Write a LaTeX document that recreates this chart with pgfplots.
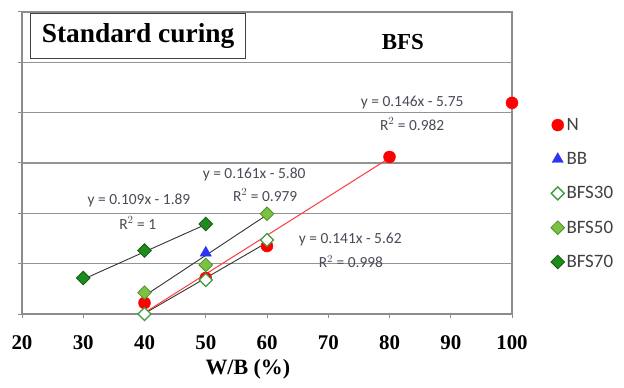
\documentclass[border=0pt]{standalone}
\usepackage{fontspec}
\setmainfont{Liberation Serif}
\newfontfamily\calfont{Carlito}
\usepackage{pgfplots}
\pgfplotsset{compat=1.18}
\definecolor{gridgray}{HTML}{939393}
\definecolor{axgray}{HTML}{8C8C8C}
\definecolor{eqgray}{HTML}{4A4A58}
\definecolor{legtext}{HTML}{404040}
\definecolor{bbblue}{HTML}{2B35F0}
\definecolor{g30}{HTML}{3F9A3F}
\definecolor{g50fill}{HTML}{7CC242}
\definecolor{g50draw}{HTML}{4A8F2A}
\definecolor{g70fill}{HTML}{1F8B1F}
\definecolor{g70draw}{HTML}{0E5E0E}
\definecolor{nred}{HTML}{FF0000}
\definecolor{redline}{HTML}{FF3A3A}
\begin{document}
\begin{tikzpicture}
\begin{axis}[
  name=ax, scale only axis, width=490bp, height=302bp,
  xmin=20, xmax=100, ymin=0, ymax=12,
  xtick={20,30,...,100}, ytick={0,2,...,12}, yticklabels={},
  ymajorgrids, grid style={draw=gridgray, line width=1.3bp},
  axis line style={draw=axgray, line width=1.2bp},
  tick style={draw=axgray, line width=1bp},
  tick align=outside, major tick length=4bp,
  xtick pos=bottom, ytick pos=left,
  /pgf/number format/assume math mode=true,
  xticklabel style={font=\fontsize{21}{21}\selectfont\bfseries, yshift=-14bp},
  xlabel={W/B (\%)},
  xlabel style={font=\fontsize{22}{22}\selectfont\bfseries, at={(axis description cs:0.461,0)}, anchor=center, yshift=-55bp},
  clip=false,
  legend style={draw=none, fill=none, at={(axis description cs:1.073,0.662)}, anchor=north west,
    font=\calfont\fontsize{19}{19}\selectfont, text=legtext, row sep=16.5bp},
  legend cell align=left,
]
% trendlines
\addplot[black!80, line width=0.9bp, forget plot] coordinates {(30,1.38) (50,3.56)};
\addplot[black!80, line width=0.9bp, forget plot] coordinates {(40,0.72) (60,3.94)};
\addplot[black!80, line width=0.9bp, forget plot] coordinates {(40,0.02) (60,2.84)};
\addplot[redline, line width=1bp, forget plot] coordinates {(40,0.05) (80,6.2)};
% data
\addplot[only marks, mark=*, mark size=6bp, mark options={draw=nred, fill=nred}]
  coordinates {(40,0.44) (50,1.43) (60,2.70) (80,6.24) (100,8.39)};
\addlegendentry{N}
\addplot[only marks, mark=triangle*, mark size=6.5bp, mark options={draw=bbblue, fill=bbblue}]
  coordinates {(50,2.43)};
\addlegendentry{BB}
\addplot[only marks, mark=square*, mark size=4.6bp, mark options={rotate=45, draw=g30, fill=white, line width=1.3bp}]
  coordinates {(40,0.0) (50,1.35) (60,2.94)};
\addlegendentry{BFS30}
\addplot[only marks, mark=square*, mark size=4.8bp, mark options={rotate=45, draw=g50draw, fill=g50fill, line width=0.8bp}]
  coordinates {(40,0.85) (50,1.95) (60,3.98)};
\addlegendentry{BFS50}
\addplot[only marks, mark=square*, mark size=4.8bp, mark options={rotate=45, draw=g70draw, fill=g70fill, line width=0.8bp}]
  coordinates {(30,1.43) (40,2.52) (50,3.58)};
\addlegendentry{BFS70}
% text
\node[draw=black!75, line width=1.2bp, anchor=north west, minimum width=215bp, minimum height=45bp,
  font=\fontsize{27.5}{27.5}\selectfont\bfseries, inner sep=0pt] at (axis cs:21.3,11.97) {Standard curing};
\node[font=\fontsize{23}{23}\selectfont\bfseries] at (axis cs:82.2,10.81) {BFS};
\begin{scope}[every node/.style={font=\calfont\fontsize{15.5}{15.5}\selectfont, text=eqgray, inner sep=0pt}]
\node at (axis cs:83.7,8.39) {y = 0.146x - 5.75};
\node at (axis cs:83.7,7.55) {R$^2$ = 0.982};
\node at (axis cs:57.9,5.53) {y = 0.161x - 5.80};
\node at (axis cs:59.7,4.73) {R$^2$ = 0.979};
\node at (axis cs:39.1,4.53) {y = 0.109x - 1.89};
\node at (axis cs:38.9,3.62) {R$^2$ = 1};
\node at (axis cs:73.6,2.94) {y = 0.141x - 5.62};
\node at (axis cs:73.7,2.07) {R$^2$ = 0.998};
\end{scope}
\end{axis}
\pgfresetboundingbox
\path[use as bounding box] ([xshift=-22bp,yshift=-74bp]ax.south west) rectangle ([xshift=112bp,yshift=12bp]ax.north east);
\end{tikzpicture}
\end{document}
